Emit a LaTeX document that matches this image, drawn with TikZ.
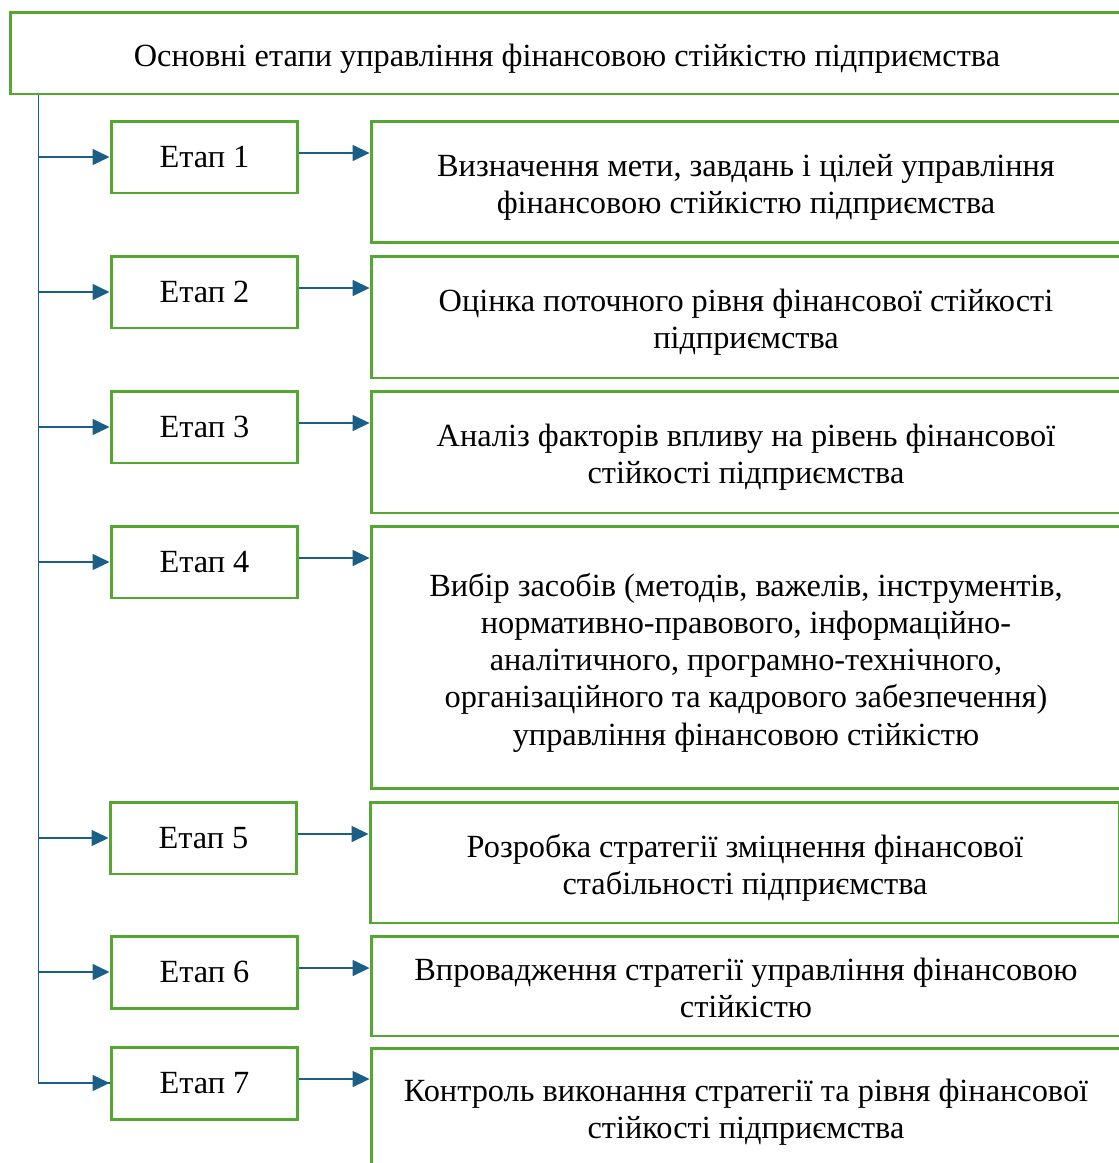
\documentclass[tikz,border=0pt]{standalone}
\usepackage{fontspec}
\setmainfont{Liberation Serif}
\usetikzlibrary{arrows.meta}
\definecolor{boxgreen}{RGB}{84,168,50}
\definecolor{linkblue}{RGB}{27,95,135}
\tikzset{
  box/.style={draw=boxgreen, line width=1.7pt, fill=white, inner sep=0pt},
  txt/.style={inner sep=0pt, align=center, font=\fontsize{18.4pt}{21.2pt}\selectfont},
  stagebox/.style={box, txt, minimum width=3.74cm, minimum height=1.44cm},
  descbox/.style={box, minimum width=15cm},
  link/.style={draw=linkblue, line width=0.8pt},
  arr/.style={link, -{Triangle[length=0.34cm,width=0.32cm]}}
}
\begin{document}
\begin{tikzpicture}[x=0.02cm,y=-0.02cm]
\useasboundingbox (0,0) rectangle (1119,1163);
\clip (0,0) rectangle (1119,1163);
\fill[white] (0,0) rectangle (1119,1163);

\node[box, minimum width=22.28cm, minimum height=1.64cm] (top) at (567,53) {};
\node[txt] (topt) at ([yshift=-0.12cm]top.center)
  {Основні етапи управління фінансовою стійкістю підприємства};

\node[stagebox] (s1) at (204.5,157) {Етап 1};
\node[stagebox] (s2) at (204.5,292) {Етап 2};
\node[stagebox] (s3) at (204.5,427) {Етап 3};
\node[stagebox] (s4) at (204.5,562) {Етап 4};
\node[stagebox] (s5) at (203.5,838) {Етап 5};
\node[stagebox] (s6) at (204.5,972) {Етап 6};
\node[stagebox] (s7) at (204.5,1083) {Етап 7};

\node[descbox, minimum height=2.44cm] (b1) at (746,182) {};
\node[descbox, minimum height=2.44cm] (b2) at (746,317) {};
\node[descbox, minimum height=2.44cm] (b3) at (746,452) {};
\node[descbox, minimum height=5.26cm] (b4) at (746,657.5) {};
\node[descbox, minimum height=2.42cm] (b5) at (745,862.5) {};
\node[descbox, minimum height=2.0cm] (b6) at (746,986) {};
\node[descbox, minimum height=2.44cm] (b7) at (746,1109) {};

\node[txt] (b1t) at ([yshift=-0.1cm]b1.center)
  {Визначення мети, завдань і цілей управління\\фінансовою стійкістю підприємства};
\node[txt] (b2t) at ([yshift=-0.1cm]b2.center)
  {Оцінка поточного рівня фінансової стійкості\\підприємства};
\node[txt] (b3t) at ([yshift=-0.1cm]b3.center)
  {Аналіз факторів впливу на рівень фінансової\\стійкості підприємства};
\node[txt] (b4t) at ([yshift=-0.1cm]b4.center)
  {Вибір засобів (методів, важелів, інструментів,\\нормативно-правового, інформаційно-\\аналітичного, програмно-технічного,\\організаційного та кадрового забезпечення)\\управління фінансовою стійкістю};
\node[txt] (b5t) at ([yshift=-0.1cm]b5.center)
  {Розробка стратегії зміцнення фінансової\\стабільності підприємства};
\node[txt] (b6t) at ([yshift=-0.04cm]b6.center)
  {Впровадження стратегії управління фінансовою\\стійкістю};
\node[txt] (b7t) at ([yshift=-0.06cm]b7.center)
  {Контроль виконання стратегії та рівня фінансової\\стійкості підприємства};

\coordinate (t0) at ([xshift=0.6cm]top.south west);
\draw[link] (t0) |- (s7.west);
\foreach \i in {1,...,7} {
  \draw[arr] (t0 |- s\i.west) -- (s\i.west);
  \draw[arr] ([yshift=0.08cm]s\i.east) -- ([yshift=0.08cm]s\i.east -| b\i.west);
}
\end{tikzpicture}
\end{document}
